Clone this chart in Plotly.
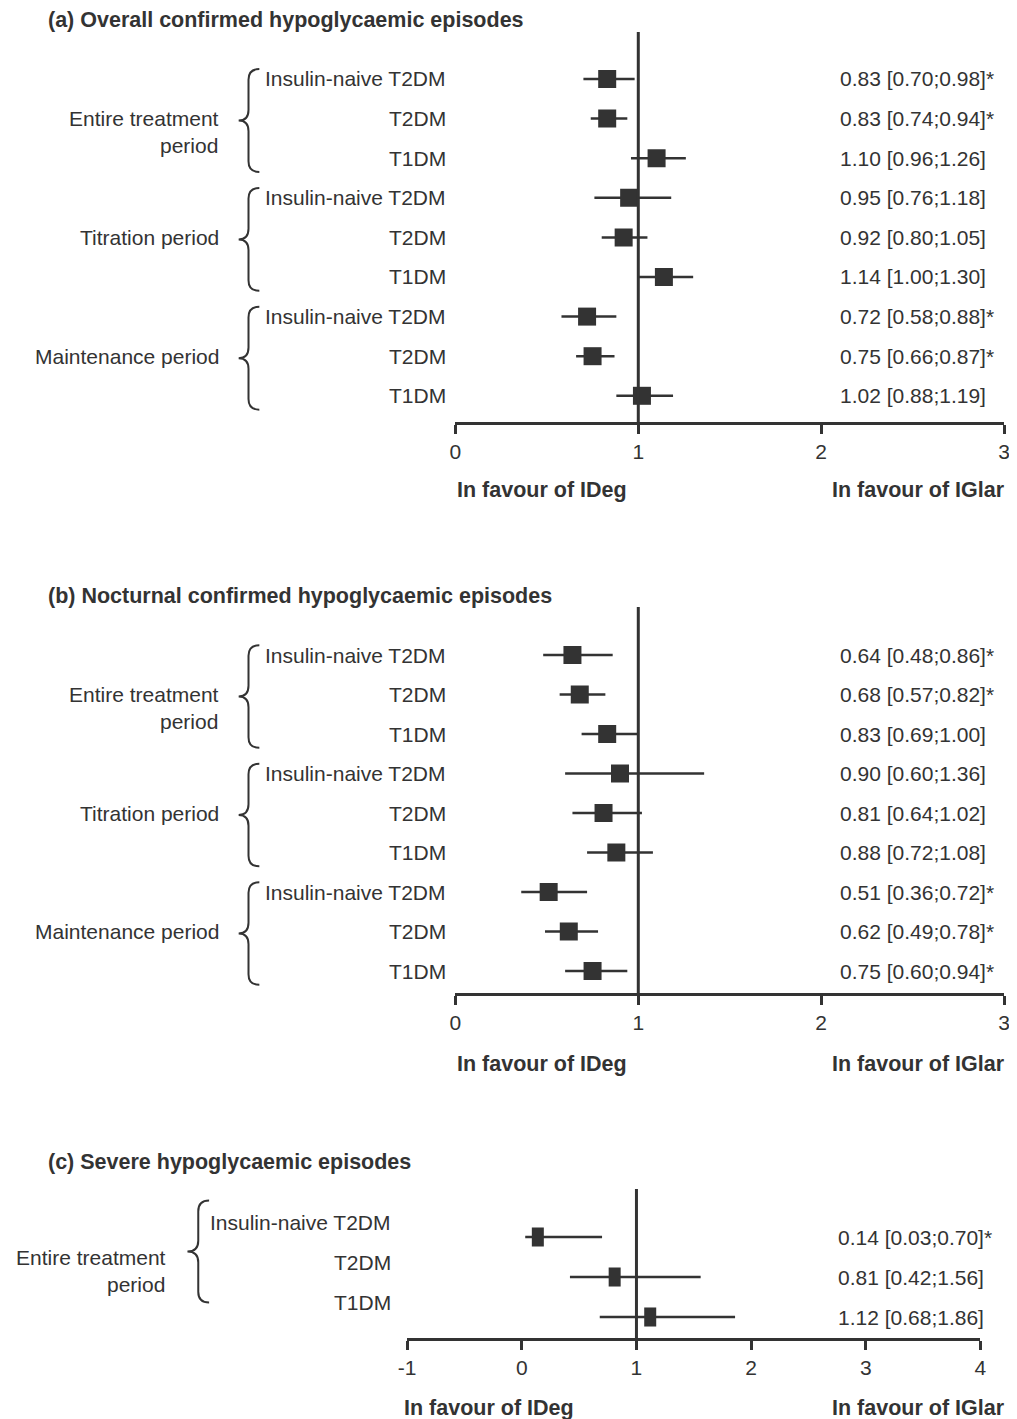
import plotly.graph_objects as go

# page has an 8px body margin; figure is sized to fill the rest of the window
OFF = 8
W, H = 1017 - OFF, 1419 - OFF
FONT = "Liberation Sans, Arial, Helvetica, sans-serif"
INK = "#333333"
FS = 21
FSB = 21.5

# ---------------- data ----------------
categories = ["Insulin-naive T2DM", "T2DM", "T1DM"]
periods_ab = ["Entire treatment<br>period", "Titration period", "Maintenance period"]
periods_c = ["Entire treatment<br>period"]

titles = ["(a) Overall confirmed hypoglycaemic episodes",
          "(b) Nocturnal confirmed hypoglycaemic episodes",
          "(c) Severe hypoglycaemic episodes"]

a_est = [0.83, 0.83, 1.10, 0.95, 0.92, 1.14, 0.72, 0.75, 1.02]
a_lo = [0.70, 0.74, 0.96, 0.76, 0.80, 1.00, 0.58, 0.66, 0.88]
a_hi = [0.98, 0.94, 1.26, 1.18, 1.05, 1.30, 0.88, 0.87, 1.19]
a_sig = [True, True, False, False, False, False, True, True, False]

b_est = [0.64, 0.68, 0.83, 0.90, 0.81, 0.88, 0.51, 0.62, 0.75]
b_lo = [0.48, 0.57, 0.69, 0.60, 0.64, 0.72, 0.36, 0.49, 0.60]
b_hi = [0.86, 0.82, 1.00, 1.36, 1.02, 1.08, 0.72, 0.78, 0.94]
b_sig = [True, True, False, False, False, False, True, True, True]

c_est = [0.14, 0.81, 1.12]
c_lo = [0.03, 0.42, 0.68]
c_hi = [0.70, 1.56, 1.86]
c_sig = [True, False, False]

ab_ticks = [0, 1, 2, 3]
c_ticks = [-1, 0, 1, 2, 3, 4]
favour_left = "In favour of IDeg"
favour_right = "In favour of IGlar"

# ---------------- geometry (page pixels) ----------------
panels = [
    dict(est=a_est, lo=a_lo, hi=a_hi, sig=a_sig, periods=periods_ab, ticks=ab_ticks,
         x0=453, x1=1010, top=32, axis=422, row0=79, step=39.6, title_y=20, fav_y=490,
         fav_x=453, lab_x=445, val_x=841, grp_x=215, lab_off=0.0, square=True,
         brace=(254, 243, 233), grp_two=0.33, br_top=-0.25, br_bot=2.35),
    dict(est=b_est, lo=b_lo, hi=b_hi, sig=b_sig, periods=periods_ab, ticks=ab_ticks,
         x0=453, x1=1010, top=607, axis=993, row0=655, step=39.5, title_y=596, fav_y=1064,
         fav_x=453, lab_x=445, val_x=841, grp_x=215, lab_off=0.0, square=True,
         brace=(254, 243, 233), grp_two=0.33, br_top=-0.25, br_bot=2.35),
    dict(est=c_est, lo=c_lo, hi=c_hi, sig=c_sig, periods=periods_c, ticks=c_ticks,
         x0=404, x1=986, top=1189, axis=1338, row0=1237, step=40, title_y=1162, fav_y=1408,
         fav_x=399, lab_x=390, val_x=839, grp_x=161, lab_off=-0.36, square=False,
         brace=(203, 192, 181), grp_two=0.5, br_top=-0.55, br_bot=2.0),
]

fig = go.Figure()
annotations = []
shapes = []


def px(x):
    return (x - OFF) / W


def py(y):
    return 1 - (y - OFF) / H


for k, p in enumerate(panels):
    sfx = "" if k == 0 else str(k + 1)
    xa, ya = "x" + sfx, "y" + sfx
    n = len(p["est"])
    rows = list(range(n))
    plus = [h - e for h, e in zip(p["hi"], p["est"])]
    minus = [e - l for e, l in zip(p["est"], p["lo"])]
    if p["square"]:
        marker = dict(symbol="square", size=18, color=INK, line=dict(width=0))
    else:
        marker = dict(symbol="line-ns", size=13.6, color=INK, line=dict(width=12, color=INK))
    fig.add_trace(go.Scatter(
        x=p["est"], y=rows, mode="markers", xaxis=xa, yaxis=ya,
        marker=marker,
        error_x=dict(type="data", symmetric=False, array=plus, arrayminus=minus,
                     thickness=2.5, width=0, color=INK),
        showlegend=False, hoverinfo="skip"))

    t = p["ticks"]
    fig.layout["xaxis" + sfx] = dict(
        domain=[px(p["x0"]), px(p["x1"])], range=[t[0], t[-1]], anchor=ya,
        tickvals=t, ticktext=[str(v) for v in t],
        showline=True, linewidth=3, linecolor=INK, ticks="outside", ticklen=9,
        tickwidth=3, tickcolor=INK, showgrid=False, zeroline=False,
        tickfont=dict(family=FONT, size=FS, color=INK), fixedrange=True)
    fig.layout["yaxis" + sfx] = dict(
        domain=[py(p["axis"]), py(p["top"])],
        range=[(p["axis"] - p["row0"]) / p["step"], (p["top"] - p["row0"]) / p["step"]],
        anchor=xa, visible=False, fixedrange=True)

    # reference line at 1
    shapes.append(dict(type="line", xref=xa, yref=ya + " domain", x0=1, x1=1, y0=0, y1=1,
                       line=dict(color=INK, width=3)))

    # row labels and values
    for i in rows:
        annotations.append(dict(
            text=categories[i % 3], xref="paper", yref=ya, x=px(p["lab_x"]),
            y=i + p["lab_off"], xanchor="right", yanchor="middle", showarrow=False,
            font=dict(family=FONT, size=FS, color=INK)))
        txt = "%.2f [%.2f;%.2f]%s" % (p["est"][i], p["lo"][i], p["hi"][i],
                                       "*" if p["sig"][i] else "")
        annotations.append(dict(
            text=txt, xref="paper", yref=ya, x=px(p["val_x"]), y=i,
            xanchor="left", yanchor="middle", showarrow=False,
            font=dict(family=FONT, size=FS, color=INK)))

    # groups, braces
    hx, sx, cx = (px(v) for v in p["brace"])
    for g, name in enumerate(p["periods"]):
        base = 3 * g + p["lab_off"]
        mid = base + 1 + (p["grp_two"] if "<br>" in name else 0.0)
        if k == 2:
            mid = 0.85
        annotations.append(dict(
            text=name, xref="paper", yref=ya, x=px(p["grp_x"]), y=mid,
            xanchor="right", yanchor="middle", align="right", showarrow=False,
            font=dict(family=FONT, size=FS, color=INK)))
        T = base + p["br_top"]
        B = base + p["br_bot"]
        M = (T + B) / 2
        r = 0.27
        path = (f"M{hx},{T} Q{sx},{T} {sx},{T + r} L{sx},{M - r} "
                f"Q{sx},{M} {cx},{M} Q{sx},{M} {sx},{M + r} "
                f"L{sx},{B - r} Q{sx},{B} {hx},{B}")
        shapes.append(dict(type="path", xref="paper", yref=ya, path=path,
                           line=dict(color=INK, width=2)))

    # title and favour labels
    annotations.append(dict(
        text="<b>" + titles[k] + "</b>", xref="paper", yref="paper", x=px(37),
        y=py(p["title_y"]), xanchor="left", yanchor="middle", showarrow=False,
        font=dict(family=FONT, size=FSB, color=INK)))
    annotations.append(dict(
        text="<b>" + favour_left + "</b>", xref="paper", yref="paper", x=px(p["fav_x"]),
        y=py(p["fav_y"]), xanchor="left", yanchor="middle", showarrow=False,
        font=dict(family=FONT, size=FSB, color=INK)))
    annotations.append(dict(
        text="<b>" + favour_right + "</b>", xref="paper", yref="paper", x=px(1013),
        y=py(p["fav_y"]), xanchor="right", yanchor="middle", showarrow=False,
        font=dict(family=FONT, size=FSB, color=INK)))

fig.update_layout(
    width=W, height=H, margin=dict(l=0, r=0, t=0, b=0),
    paper_bgcolor="white", plot_bgcolor="white",
    annotations=annotations, shapes=shapes, showlegend=False,
    font=dict(family=FONT, size=FS, color=INK))

fig.write_html("out.html")
